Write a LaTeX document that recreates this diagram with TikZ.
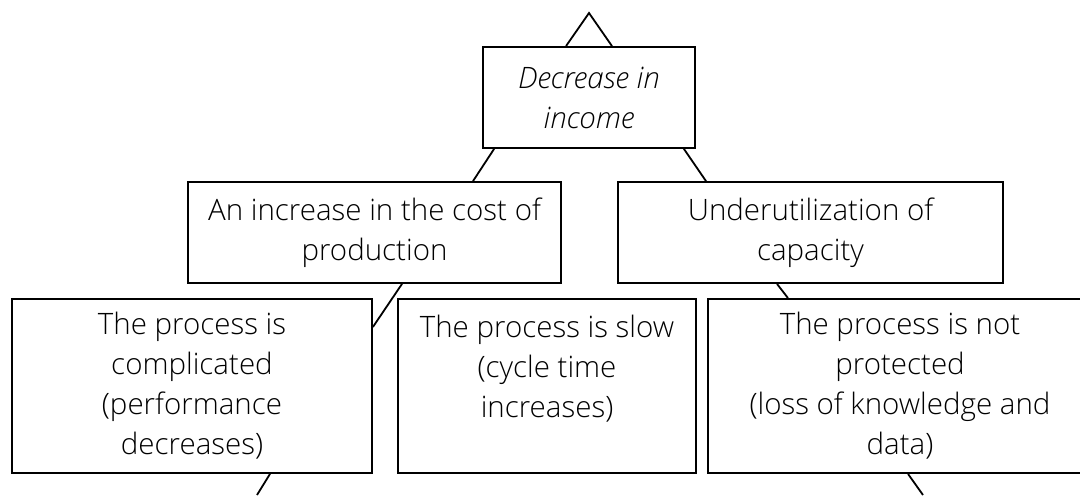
\documentclass[tikz,border=0pt]{standalone}
\usepackage{fontspec}
\setmainfont{Open Sans}[UprightFont=* Light, ItalicFont=* Light Italic]
\usepackage{tikz}

\begin{document}
\begin{tikzpicture}[x=1pt, y=1pt,
    box/.style={rectangle, draw, line width=0.9pt, inner sep=0pt, align=center, font=\fontsize{14.75}{20}\selectfont},
    topbox/.style={box, minimum width=106pt, minimum height=50.5pt},
    midbox/.style={box, minimum height=50.5pt},
    lowbox/.style={box, minimum height=87pt},
    link/.style={line width=0.9pt}
]
\clip (0,0) rectangle (540,247.5);

% problem tree, top to bottom
\node[topbox, font=\fontsize{14.75}{20}\selectfont\itshape] (income) at (294.5,198.75) {Decrease in\\income};

\node[midbox, minimum width=186.5pt] (cost) at (187.25,131.25) {An increase in the cost of\\production};
\node[midbox, minimum width=192.5pt] (capacity) at (405.25,131.25) {Underutilization of\\capacity};

\node[lowbox, minimum width=180pt] (complicated) at (96,54.5) {The process is\\complicated\\(performance\\decreases)};
\node[lowbox, minimum width=149pt] (slow) at (273.5,54.5) {The process is slow\\(cycle time\\increases)\\~};
\node[lowbox, minimum width=192pt] (unprotected) at (450,54.5) {The process is not\\protected\\(loss of knowledge and\\data)};

\coordinate (apex) at (294.5,241);
\coordinate (leftend) at (128.5,0);
\coordinate (rightend) at (461.5,0);

\draw[link] ([xshift=-11.5pt]income.north) -- (apex) -- ([xshift=11.5pt]income.north);
\draw[link] ([xshift=6pt]income.south west) -- ([xshift=49.25pt]cost.north);
\draw[link] ([xshift=-6pt]income.south east) -- ([xshift=-52.25pt]capacity.north);
\draw[link] ([xshift=13.75pt]cost.south) -- ([yshift=29.5pt]complicated.east);
\draw[link] ([xshift=-16.75pt]capacity.south) -- ([xshift=-56pt]unprotected.north);
\draw[link] ([xshift=39pt]complicated.south) -- (leftend);
\draw[link] ([xshift=4pt]unprotected.south) -- (rightend);

\end{tikzpicture}
\end{document}
